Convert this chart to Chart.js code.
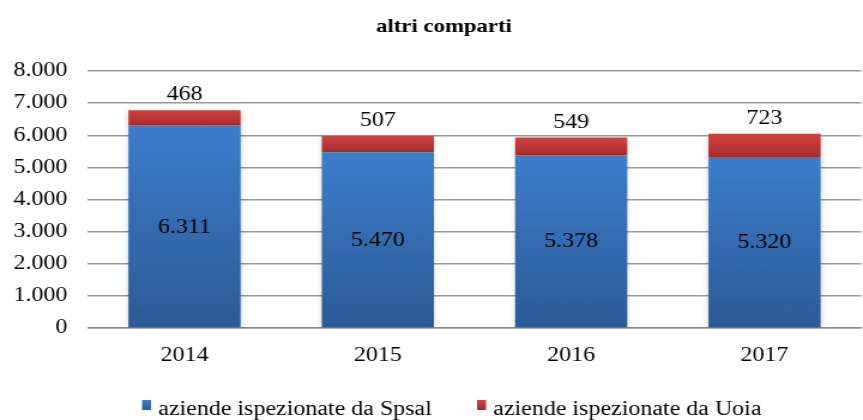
<!DOCTYPE html>
<html>
<head>
<meta charset="utf-8">
<script src="https://cdn.jsdelivr.net/npm/chart.js@4.4.1/dist/chart.umd.min.js"></script>
<style>
  html, body { margin: 0; padding: 0; background: #fff; overflow: hidden; }
  /* l'originale è stirato in orizzontale di circa 1,2 */
  #wrap { width: 720px; height: 420px; transform: scaleX(1.19861); transform-origin: 0 0; }
</style>
</head>
<body>
<div id="wrap"><canvas id="grafico" width="720" height="420"></canvas></div>
<script>
// dati
const anni = ['2014', '2015', '2016', '2017'];
const spsal = [6311, 5470, 5378, 5320];
const uoia = [468, 507, 549, 723];
const tickValori = [0, 1000, 2000, 3000, 4000, 5000, 6000, 7000, 8000];
const nomiSerie = ['aziende ispezionate da Spsal', 'aziende ispezionate da Uoia'];
const titolo = 'altri comparti';

const FONT = "'Liberation Serif', 'Times New Roman', serif";

// formato italiano: 8.000
function fmt(v) {
  return String(Math.round(v)).replace(/\B(?=(\d{3})+(?!\d))/g, '.');
}

function gradiente(chart, top, bottom, cTop, cBottom, piatto) {
  if (!isFinite(top) || !isFinite(bottom) || top === bottom) return piatto;
  const g = chart.ctx.createLinearGradient(0, top, 0, bottom);
  g.addColorStop(0, cTop);
  g.addColorStop(1, cBottom);
  return g;
}

function coloreSpsal(c) {
  const chart = c.chart;
  const y = chart.scales.y;
  if (!y || c.dataIndex === undefined) return '#3a78c4';
  return gradiente(chart, y.getPixelForValue(spsal[c.dataIndex]), y.getPixelForValue(0), '#3c7dcb', '#2c5a95', '#3a78c4');
}

function coloreUoia(c) {
  const chart = c.chart;
  const y = chart.scales.y;
  if (!y || c.dataIndex === undefined) return '#c63a3a';
  const i = c.dataIndex;
  return gradiente(chart, y.getPixelForValue(spsal[i] + uoia[i]), y.getPixelForValue(spsal[i]), '#d43f3f', '#a42f2f', '#c63a3a');
}

// etichette valori sulle barre
const etichette = {
  id: 'etichette',
  afterDatasetsDraw(chart) {
    const ctx = chart.ctx;
    ctx.save();
    ctx.font = '20px ' + FONT;
    ctx.fillStyle = '#000';
    ctx.textAlign = 'center';
    ctx.textBaseline = 'middle';
    chart.getDatasetMeta(0).data.forEach((bar, i) => {
      ctx.fillText(fmt(spsal[i]), bar.x, (bar.y + bar.base) / 2 + 1);
    });
    chart.getDatasetMeta(1).data.forEach((bar, i) => {
      ctx.fillText(fmt(uoia[i]), bar.x, bar.y - 15);
    });
    ctx.restore();
  }
};

// ombra leggera delle barre
const ombra = {
  id: 'ombra',
  beforeDatasetsDraw(chart) {
    const ctx = chart.ctx;
    ctx.save();
    ctx.shadowColor = 'rgba(0,0,0,0.22)';
    ctx.shadowBlur = 5;
    ctx.shadowOffsetX = 0;
    ctx.shadowOffsetY = 1;
  },
  afterDatasetsDraw(chart) {
    chart.ctx.restore();
  }
};

// titolo e legenda disegnati a mano per controllare le posizioni
const cornice = {
  id: 'cornice',
  afterDraw(chart) {
    const ctx = chart.ctx;
    ctx.save();
    ctx.fillStyle = '#000';
    ctx.font = 'bold 19px ' + FONT;
    ctx.textAlign = 'center';
    ctx.textBaseline = 'middle';
    ctx.fillText(titolo, 370.4, 27.4);

    ctx.font = '20px ' + FONT;
    ctx.textBaseline = 'alphabetic';
    ctx.textAlign = 'left';
    const xBox = [118.5, 398];
    const colori = [['#3c7dcb', '#2c5a95'], ['#d43f3f', '#a42f2f']];
    const yBox = 400, hBox = 10, wBox = 7.5, yTxt = 415;
    nomiSerie.forEach((nome, k) => {
      ctx.fillStyle = gradiente(chart, yBox, yBox + hBox, colori[k][0], colori[k][1], colori[k][0]);
      ctx.fillRect(xBox[k], yBox, wBox, hBox);
      ctx.fillStyle = '#000';
      ctx.fillText(nome, xBox[k] + 13.5, yTxt);
    });
    ctx.restore();
  }
};

new Chart(document.getElementById('grafico'), {
  type: 'bar',
  data: {
    labels: anni,
    datasets: [
      { label: nomiSerie[0], data: spsal, backgroundColor: coloreSpsal, borderWidth: 0 },
      { label: nomiSerie[1], data: uoia, backgroundColor: coloreUoia, borderWidth: 0 }
    ]
  },
  options: {
    responsive: false,
    animation: false,
    devicePixelRatio: 1,
    layout: { padding: { left: 0, right: 1.5, top: 71, bottom: 36 } },
    datasets: { bar: { categoryPercentage: 1, barPercentage: 0.58 } },
    plugins: {
      legend: { display: false },
      tooltip: { enabled: false },
      title: { display: false }
    },
    scales: {
      x: {
        stacked: true,
        grid: { display: false, drawTicks: false },
        border: { display: true, color: '#8c8c8c', width: 1.5 },
        ticks: { color: '#000', font: { family: FONT, size: 20 }, padding: 16 }
      },
      y: {
        stacked: true,
        min: 0,
        max: 8000,
        afterBuildTicks(scale) { scale.ticks = tickValori.map(v => ({ value: v })); },
        afterFit(scale) { scale.width = 73.3; },
        grid: { color: '#999', lineWidth: 1.5, drawTicks: false },
        border: { display: false },
        ticks: {
          color: '#000',
          font: { family: FONT, size: 20 },
          padding: 17,
          callback: v => fmt(v)
        }
      }
    }
  },
  plugins: [ombra, etichette, cornice]
});
</script>
</body>
</html>
